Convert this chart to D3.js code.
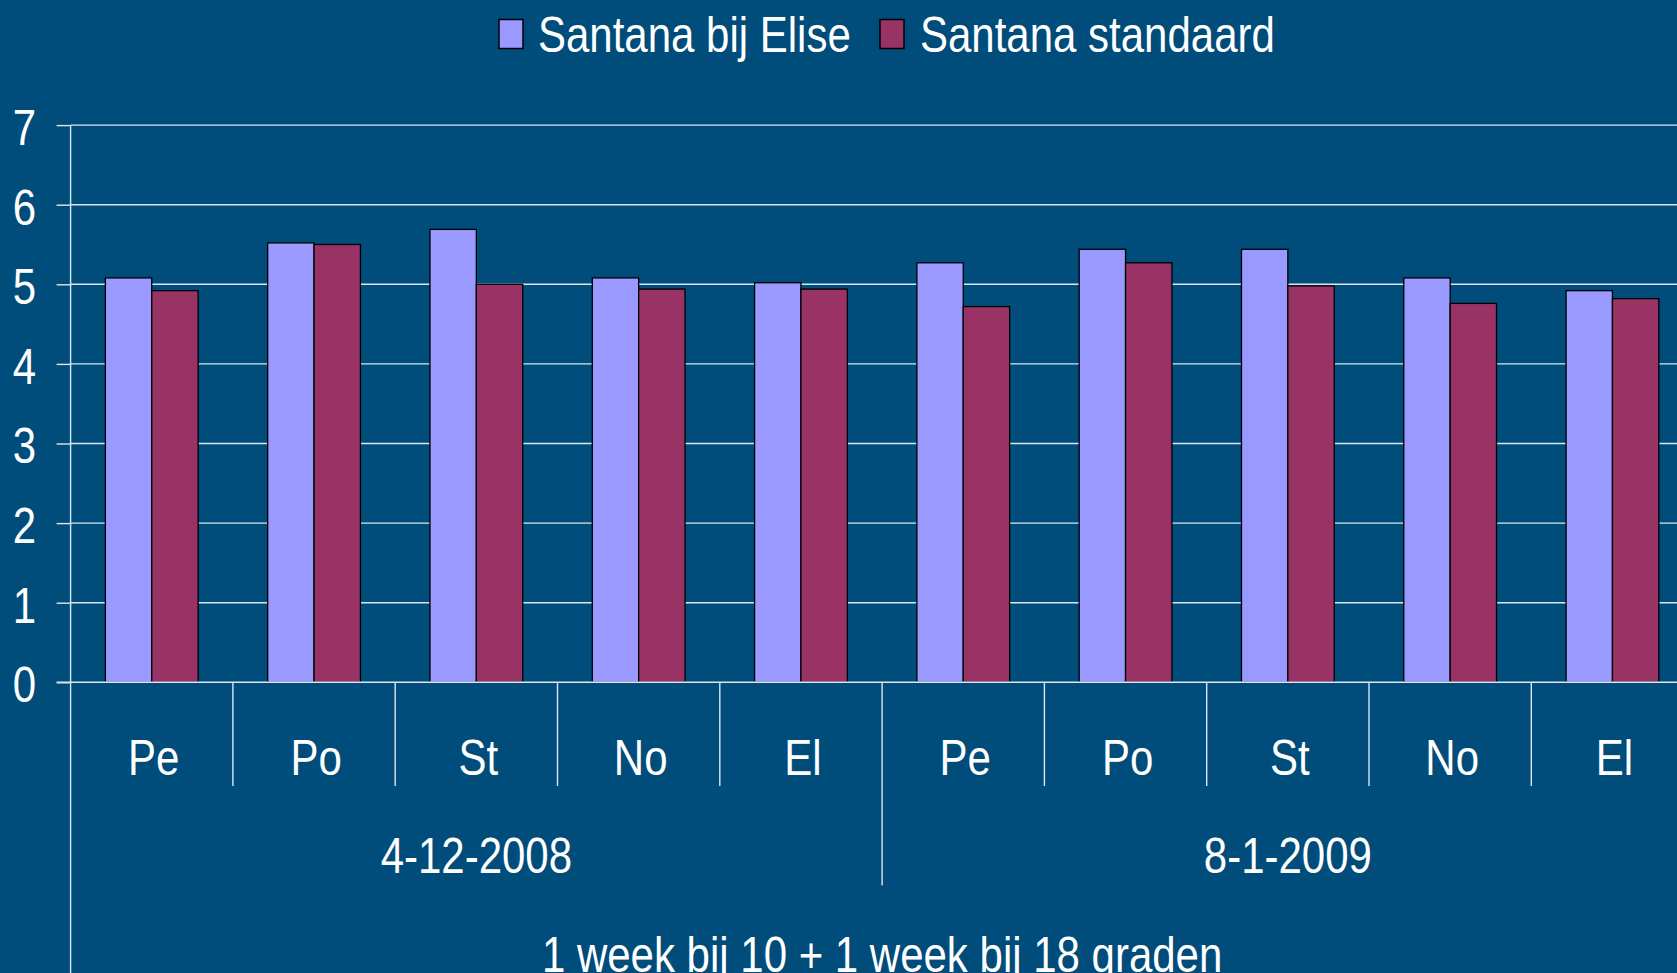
<!DOCTYPE html>
<html><head><meta charset="utf-8">
<script src="https://cdn.jsdelivr.net/npm/d3@7"></script>
<style>html,body{margin:0;padding:0;background:#004C7A;overflow:hidden}</style>
</head><body>
<svg id="c" width="1677" height="973"></svg>
<script>
const groups = ["4-12-2008", "8-1-2009"];
const categories = ["Pe", "Po", "St", "No", "El"];
const seriesNames = ["Santana bij Elise", "Santana standaard"];
const seriesColors = ["#9999FF", "#993366"];
const eliseValues = [5.08, 5.52, 5.69, 5.08, 5.02, 5.27, 5.44, 5.44, 5.08, 4.92];
const standaardValues = [4.92, 5.50, 5.00, 4.94, 4.94, 4.72, 5.27, 4.98, 4.76, 4.82];
const yTicks = [0, 1, 2, 3, 4, 5, 6, 7];
const axisTitle = "1 week bij 10 + 1 week bij 18 graden";

const W = 1677, H = 973;
const left = 70.6, catW = 162.3;
const svg = d3.select("#c");
const font = "'Liberation Sans', Arial, sans-serif";
const SY = 1.18;

svg.append("rect").attr("width", W).attr("height", H).attr("fill", "#004C7A");

const keys = [];
groups.forEach((g, gi) => categories.forEach((c, ci) => keys.push(gi + "|" + c)));
const x0 = d3.scaleBand().domain(keys).range([left, left + catW * keys.length]).padding(0);
const x1 = d3.scaleBand().domain([0, 1]).range([0, x0.bandwidth()]).paddingInner(0).paddingOuter(0.75);
const y = d3.scaleLinear().domain([0, 7]).range([682.3, 125.1]);

// gridlines
const gridColor = "#DCE6EE";
svg.append("g").selectAll("line").data(yTicks.filter(t => t > 0)).join("line")
  .attr("x1", left).attr("x2", W).attr("y1", d => y(d)).attr("y2", d => y(d))
  .attr("stroke", gridColor).attr("stroke-width", 1.4);

// y axis
const yAxis = d3.axisLeft(y).tickValues(yTicks).tickSize(14).tickFormat(d3.format("d"));
const ya = svg.append("g").attr("transform", `translate(${left},0)`).call(yAxis);
ya.select(".domain").remove();
ya.selectAll(".tick line").attr("stroke", gridColor).attr("stroke-width", 1.4);
ya.selectAll(".tick text").remove();
svg.append("g").selectAll("text").data(yTicks).join("text")
  .attr("transform", d => `translate(36,${y(d) + 2}) scale(1,${SY})`)
  .attr("dy", "0.36em").attr("text-anchor", "end")
  .attr("fill", "#fff").attr("font-family", font).attr("font-size", 42)
  .text(d => d);

// left axis line full height
svg.append("line").attr("x1", left).attr("x2", left).attr("y1", y(7)).attr("y2", H)
  .attr("stroke", gridColor).attr("stroke-width", 1.4);

// bars
const data = keys.map((k, i) => ({ key: k, vals: [eliseValues[i], standaardValues[i]] }));
const bars = svg.append("g").selectAll("g").data(data).join("g")
  .attr("transform", d => `translate(${x0(d.key)},0)`);
bars.selectAll("rect").data(d => d.vals.map((v, s) => ({ v, s }))).join("rect")
  .attr("x", d => x1(d.s)).attr("width", x1.bandwidth())
  .attr("y", d => y(d.v)).attr("height", d => y(0) - y(d.v))
  .attr("fill", d => seriesColors[d.s]).attr("stroke", "#000").attr("stroke-width", 1.3);

// x axis line
svg.append("line").attr("x1", left - 14).attr("x2", W).attr("y1", y(0)).attr("y2", y(0))
  .attr("stroke", gridColor).attr("stroke-width", 1.4);

// category separators
const xAxisG = svg.append("g");
keys.forEach((k, i) => {
  if (i === 0) return;
  const xx = x0(k);
  const isGroup = i % categories.length === 0;
  xAxisG.append("line").attr("x1", xx).attr("x2", xx).attr("y1", y(0))
    .attr("y2", isGroup ? 885.6 : 786).attr("stroke", gridColor).attr("stroke-width", 1.4);
});
// category labels
svg.append("g").selectAll("text").data(keys).join("text")
  .attr("transform", d => `translate(${x0(d) + x0.bandwidth() / 2 + 2},775) scale(1,${SY})`)
  .attr("text-anchor", "middle").attr("fill", "#fff").attr("font-family", font).attr("font-size", 42)
  .text(d => d.split("|")[1]);
// group labels
svg.append("g").selectAll("text").data(groups).join("text")
  .attr("transform", (d, gi) => {
    const a = x0(gi + "|" + categories[0]);
    const b = x0(gi + "|" + categories[categories.length - 1]) + x0.bandwidth();
    return `translate(${(a + b) / 2},873) scale(1,${SY})`;
  })
  .attr("text-anchor", "middle").attr("fill", "#fff").attr("font-family", font).attr("font-size", 42)
  .text(d => d);
// axis title
const xr = x0.range();
svg.append("text")
  .attr("transform", `translate(${(xr[0] + xr[1]) / 2},972) scale(1,${SY})`)
  .attr("text-anchor", "middle").attr("fill", "#fff").attr("font-family", font).attr("font-size", 42)
  .text(axisTitle);

// legend
const legendPos = [{ sx: 499, tx: 538 }, { sx: 880, tx: 920 }];
const lg = svg.append("g");
seriesNames.forEach((n, i) => {
  lg.append("rect").attr("x", legendPos[i].sx).attr("y", 19.5).attr("width", 24).attr("height", 29)
    .attr("fill", seriesColors[i]).attr("stroke", "#000").attr("stroke-width", 1.5);
  lg.append("text").attr("transform", `translate(${legendPos[i].tx},52) scale(1,${SY})`)
    .attr("fill", "#fff").attr("font-family", font).attr("font-size", 42).text(n);
});
</script>
</body></html>
